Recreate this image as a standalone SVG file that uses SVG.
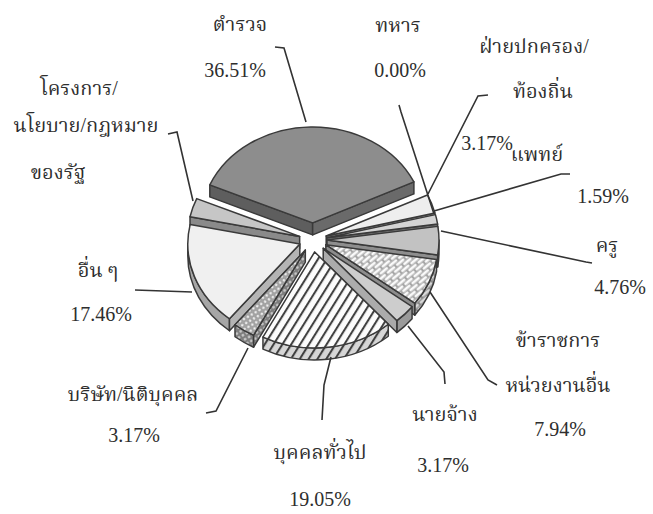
<svg xmlns="http://www.w3.org/2000/svg" width="653" height="514" viewBox="0 0 653 514">
<style>
.s{stroke:#3a3a3a;stroke-width:1.5;stroke-linejoin:round}
.ld{fill:none;stroke:#333;stroke-width:1.6}
text{font-family:"Liberation Serif","Noto Serif Thai","Noto Sans Thai","Noto Sans",serif;font-size:20px;fill:#2e2e2e;text-anchor:middle}
</style>
<defs>
<pattern id="brick" width="12" height="8" patternUnits="userSpaceOnUse" patternTransform="rotate(-40)">
<rect width="12" height="8" fill="#a8a8a8"/>
<rect x="1" y="0.8" width="10" height="2.6" rx="1.2" fill="#fafafa"/>
<rect x="-5" y="4.8" width="10" height="2.6" rx="1.2" fill="#fafafa"/>
<rect x="7" y="4.8" width="10" height="2.6" rx="1.2" fill="#fafafa"/>
</pattern>
<pattern id="brickW" width="12" height="8" patternUnits="userSpaceOnUse" patternTransform="rotate(-40)">
<rect width="12" height="8" fill="#8a8a8a"/>
<rect x="1" y="0.8" width="10" height="2.6" rx="1.2" fill="#d8d8d8"/>
<rect x="-5" y="4.8" width="10" height="2.6" rx="1.2" fill="#d8d8d8"/>
<rect x="7" y="4.8" width="10" height="2.6" rx="1.2" fill="#d8d8d8"/>
</pattern>
<pattern id="hatch" width="7.5" height="7.5" patternUnits="userSpaceOnUse" patternTransform="rotate(32)">
<rect width="7.5" height="7.5" fill="#fcfcfc"/>
<line x1="2" y1="0" x2="2" y2="7.5" stroke="#3a3a3a" stroke-width="2"/>
</pattern>
<pattern id="hatchW" width="7.5" height="7.5" patternUnits="userSpaceOnUse" patternTransform="rotate(32)">
<rect width="7.5" height="7.5" fill="#d6d6d6"/>
<line x1="2" y1="0" x2="2" y2="7.5" stroke="#3a3a3a" stroke-width="2"/>
</pattern>
<pattern id="dots" width="4.5" height="4.5" patternUnits="userSpaceOnUse" patternTransform="rotate(-30)">
<rect width="4.5" height="4.5" fill="#a4a4a4"/>
<circle cx="2.25" cy="2.25" r="1.5" fill="#f4f4f4" stroke="#808080" stroke-width="0.4"/>
</pattern>
<pattern id="dotsW" width="4.5" height="4.5" patternUnits="userSpaceOnUse" patternTransform="rotate(-30)">
<rect width="4.5" height="4.5" fill="#7e7e7e"/>
<circle cx="2.25" cy="2.25" r="1.4" fill="#c8c8c8"/>
</pattern>
</defs>

<g id="slice-police">
<path class="s" fill="#5e5e5e" d="M209.8,184.9 L312.65,222.9 L312.65,234.9 L209.8,196.9 Z"/>
<path class="s" fill="#6a6a6a" d="M312.65,222.9 L413.9,181.9 L413.9,193.9 L312.65,234.9 Z"/>
<path class="s" fill="#8d8d8d" d="M312.65,222.9 L209.8,184.9 A112,96 0 0 1 413.9,181.9 Z"/>
</g>
<g id="slice-local-admin">
<path class="s" fill="#9c9c9c" d="M326.19,235.97 L434.91,212.91 L434.91,224.91 L326.19,247.97 Z"/>
<path class="s" fill="#eeeeee" d="M326.19,235.97 L427.45,194.94 A112,96 0 0 1 434.91,212.91 Z"/>
</g>
<g id="slice-doctor">
<path class="s" fill="#6e6e6e" d="M326.74,237.7 L437.6,224.01 L437.6,236.01 L326.74,249.7 Z"/>
<path class="s" fill="#d4d4d4" d="M326.74,237.7 L435.46,214.64 A112,96 0 0 1 437.6,224.01 Z"/>
</g>
<g id="slice-project">
<path class="s" fill="#8a8a8a" d="M299.65,236.39 L190.01,216.76 L190.01,228.76 L299.65,248.39 Z"/>
<path class="s" fill="#c6c6c6" d="M299.65,236.39 L190.01,216.76 A112,96 0 0 1 196.71,198.58 Z"/>
</g>
<g id="slice-teacher">
<path class="s" fill="#9a9a9a" d="M439,240.07 A112,96 0 0 1 437.66,254.92 L437.66,266.92 A112,96 0 0 0 439,252.07 Z"/>
<path class="s" fill="#8e8e8e" d="M327,240.07 L437.66,254.92 L437.66,266.92 L327,252.07 Z"/>
<path class="s" fill="#c2c2c2" d="M327,240.07 L437.86,226.38 A112,96 0 0 1 437.66,254.92 Z"/>
</g>
<g id="slice-other">
<path class="s" fill="#a6a6a6" d="M229.47,318.75 A112,96 0 0 1 187.81,244.04 L187.81,256.04 A112,96 0 0 0 229.47,330.75 Z"/>
<path class="s" fill="#b4b4b4" d="M299.81,244.04 L229.47,318.75 L229.47,330.75 L299.81,256.04 Z"/>
<path class="s" fill="#f0f0f0" d="M299.81,244.04 L229.47,318.75 A112,96 0 0 1 190.17,224.41 Z"/>
</g>
<g id="slice-officials">
<path class="s" fill="url(#brickW)" d="M436.53,259.58 A112,96 0 0 1 414.73,303.17 L414.73,315.17 A112,96 0 0 0 436.53,271.58 Z"/>
<path class="s" fill="#8c8c8c" d="M325.87,244.73 L414.73,303.17 L414.73,315.17 L325.87,256.73 Z"/>
<path class="s" fill="url(#brick)" d="M325.87,244.73 L436.53,259.58 A112,96 0 0 1 414.73,303.17 Z"/>
</g>
<g id="slice-employer">
<path class="s" fill="#9a9a9a" d="M412.07,306.65 A112,96 0 0 1 396.84,320.56 L396.84,332.56 A112,96 0 0 0 412.07,318.65 Z"/>
<path class="s" fill="#ababab" d="M323.21,248.21 L396.84,320.56 L396.84,332.56 L323.21,260.21 Z"/>
<path class="s" fill="#cdcdcd" d="M323.21,248.21 L412.07,306.65 A112,96 0 0 1 396.84,320.56 Z"/>
</g>
<g id="slice-company">
<path class="s" fill="url(#dotsW)" d="M253.62,335.19 A112,96 0 0 1 234.99,324.75 L234.99,336.75 A112,96 0 0 0 253.62,347.19 Z"/>
<path class="s" fill="url(#dotsW)" d="M305.33,250.04 L253.62,335.19 L253.62,347.19 L305.33,262.04 Z"/>
<path class="s" fill="url(#dots)" d="M305.33,250.04 L253.62,335.19 A112,96 0 0 1 234.99,324.75 Z"/>
</g>
<g id="slice-public">
<path class="s" fill="url(#hatchW)" d="M388.29,324.26 A112,96 0 0 1 262.95,337.06 L262.95,349.06 A112,96 0 0 0 388.29,336.26 Z"/>
<path class="s" fill="url(#hatch)" d="M314.66,251.91 L388.29,324.26 A112,96 0 0 1 262.95,337.06 Z"/>
</g>

<g id="connectors">
<path class="ld" d="M275,47 L284,48 L306,122"/>
<path class="ld" d="M399,105 L401,112 L434,214"/>
<path class="ld" d="M488,95 L478,96 L428,194"/>
<path class="ld" d="M570,174 L561,174 L434,211"/>
<path class="ld" d="M592,263 L586,262 L441,231"/>
<path class="ld" d="M430,292 L488,380 L497,385"/>
<path class="ld" d="M408,326 L444,372 L445,384"/>
<path class="ld" d="M331,357 L324,385 L322,420"/>
<path class="ld" d="M248,348 L216,411 L206,413"/>
<path class="ld" d="M135,290 L192,292"/>
<path class="ld" d="M168,134 L177,132 L193,201"/>
</g>

<g id="labels">
<text x="240" y="31">ตำรวจ</text>
<text x="235" y="77">36.51%</text>
<text x="398" y="32">ทหาร</text>
<text x="400" y="77">0.00%</text>
<text x="534" y="53">ฝ่ายปกครอง/</text>
<text x="543" y="98">ท้องถิ่น</text>
<text x="487" y="150">3.17%</text>
<text x="537" y="161">แพทย์</text>
<text x="603" y="203">1.59%</text>
<text x="607" y="252">ครู</text>
<text x="620" y="294">4.76%</text>
<text x="558" y="347">ข้าราชการ</text>
<text x="558" y="392">หน่วยงานอื่น</text>
<text x="560" y="436">7.94%</text>
<text x="445" y="421">นายจ้าง</text>
<text x="443" y="472">3.17%</text>
<text x="320" y="459">บุคคลทั่วไป</text>
<text x="320" y="506">19.05%</text>
<text x="133" y="401">บริษัท/นิติบุคคล</text>
<text x="134" y="442">3.17%</text>
<text x="98" y="277">อื่น ๆ</text>
<text x="101" y="321">17.46%</text>
<text x="79" y="95">โครงการ/</text>
<text x="86" y="132">นโยบาย/กฎหมาย</text>
<text x="58" y="179">ของรัฐ</text>
</g>
</svg>
